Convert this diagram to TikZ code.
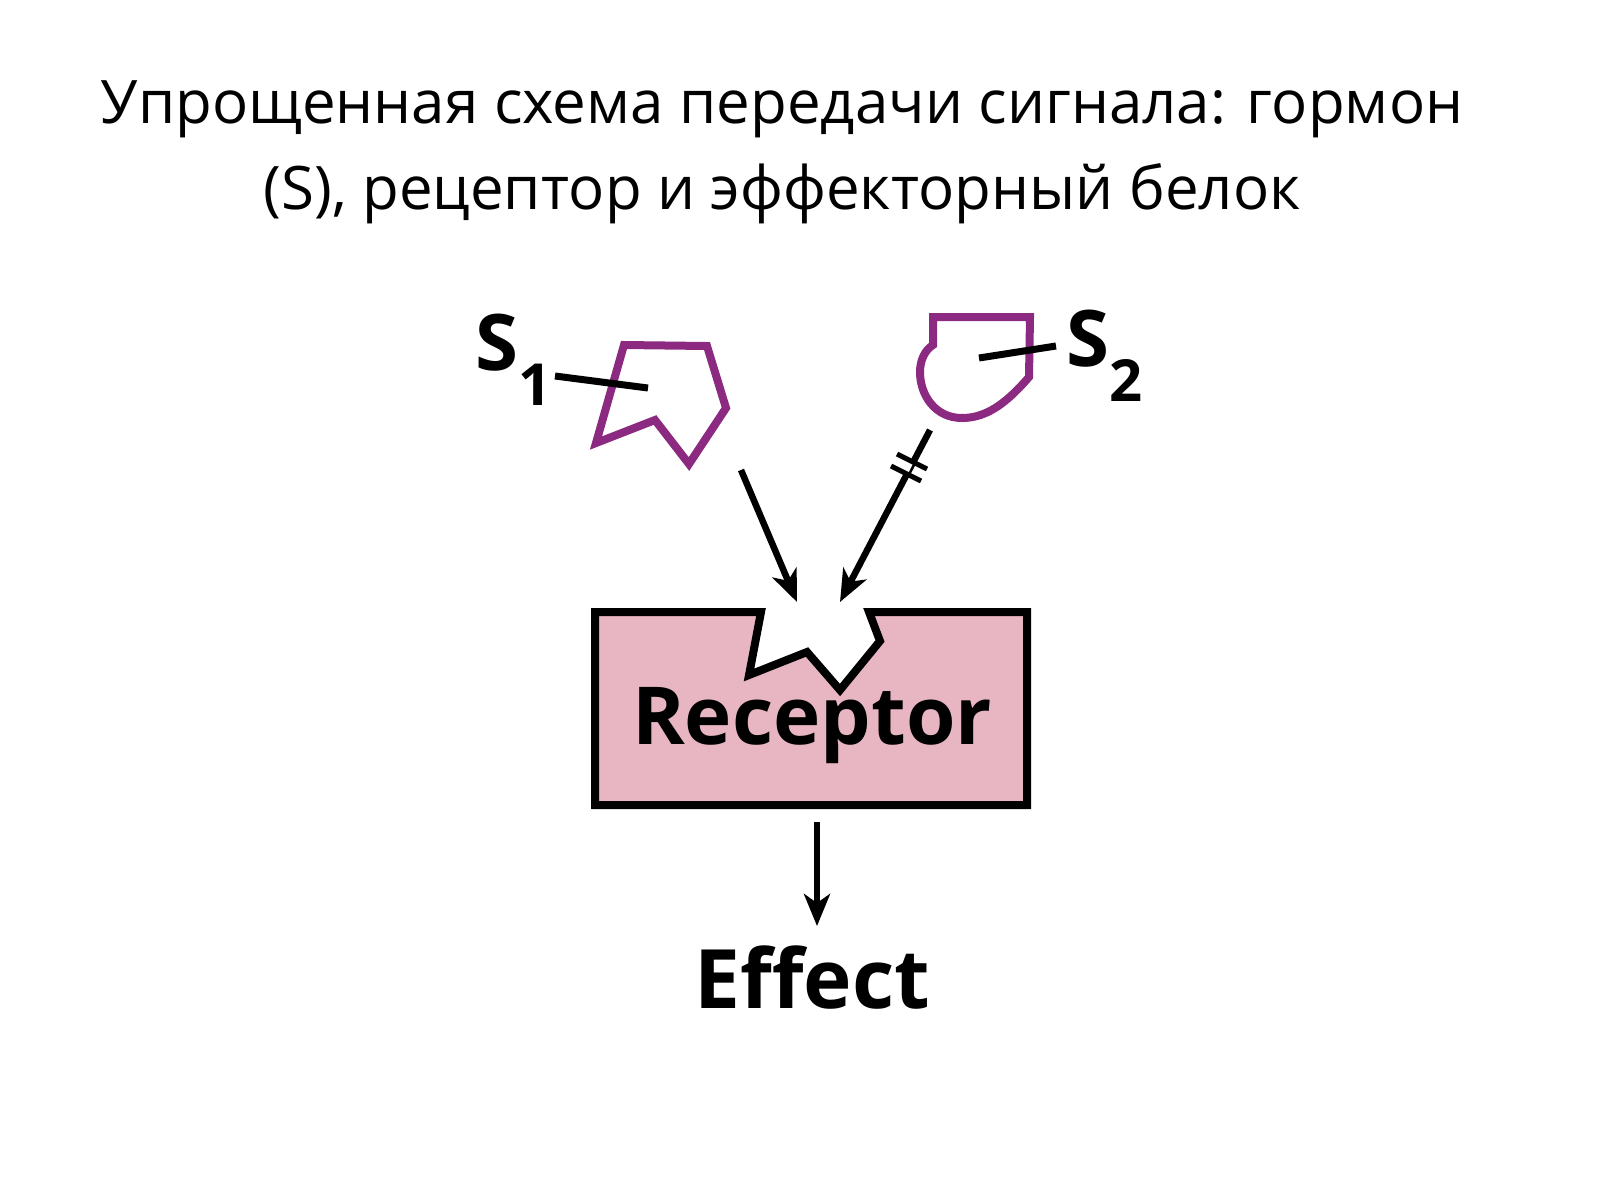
\documentclass[tikz,border=0pt]{standalone}
\usepackage{fontspec}
\setmainfont{Open Sans}
\newfontfamily\lab{Open Sans}
\usetikzlibrary{arrows.meta}
\definecolor{lig}{HTML}{8B2A80}
\definecolor{pinkf}{HTML}{E8B6C2}
\begin{document}
\begin{tikzpicture}[x=1pt,y=-1pt,
  lg/.style={draw=lig,line width=8pt,line join=miter},
  bl/.style={line width=7pt},
  ar/.style={line width=6.5pt,-{Stealth[length=32pt,width=26pt,inset=9pt]}},
  big/.style={font=\lab\bfseries\fontsize{78}{80}\selectfont}]
\useasboundingbox (0,0) rectangle (1600,1200);
\node[font=\fontsize{60}{86}\selectfont,align=center] (title) at (782,152) {Упрощенная схема передачи сигнала: гормон\\(S), рецептор и эффекторный белок};
% receptor box with notch
\draw[fill=pinkf,line width=8pt,line join=miter] (595,612) -- (761,612) -- (749,675) -- (807,652) -- (840,690) -- (880,641) -- (869,612) -- (1027,612) -- (1027,805) -- (595,805) -- cycle;
\node[big,font=\lab\bfseries\fontsize{80}{80}\selectfont] (rec) at (812,726) {Receptor};
\node[big,font=\lab\bfseries\fontsize{82}{82}\selectfont] (eff) at (812,978) {Effect};
\coordinate (rb) at (817,822); \coordinate (re) at (817,926);
\draw[ar] (rb) -- (re);
% S1
\draw[lg] (624,345) -- (707,346) -- (726,408) -- (689,464) -- (655,420) -- (596,443) -- cycle;
\coordinate (l1a) at (555,376); \coordinate (l1b) at (648,388);
\draw[bl] (l1a) -- (l1b);
\node[big,anchor=east,inner sep=0pt] (s1) at (552,360) {S\raisebox{-0.45em}{\fontsize{58}{58}\selectfont 1}};
% S2
\draw[lg] (933,345) -- (933,317) -- (1030,317) -- (1029,377) .. controls (1005,405) and (985,418) .. (962,418) .. controls (935,418) and (920,395) .. (920,372) .. controls (920,360) and (925,350) .. (933,345) -- cycle;
\coordinate (l2a) at (979,358); \coordinate (l2b) at (1056,346);
\draw[bl] (l2a) -- (l2b);
\node[big,anchor=west,inner sep=0pt] (s2) at (1066,356) {S\raisebox{-0.45em}{\fontsize{58}{58}\selectfont 2}};
% arrows
\coordinate (a1s) at (741,470); \coordinate (a1e) at (797,602);
\draw[ar] (a1s) -- (a1e);
\coordinate (a2s) at (930,430); \coordinate (a2e) at (840,602);
\draw[ar] (a2s) -- (a2e);
\fill[white] (909,459) -- (902,473) -- (907,475.5) -- (914,461.5) -- cycle;
\draw[line width=5pt] (897,454) -- (927,469) (891,466) -- (921,481);
\end{tikzpicture}
\end{document}
